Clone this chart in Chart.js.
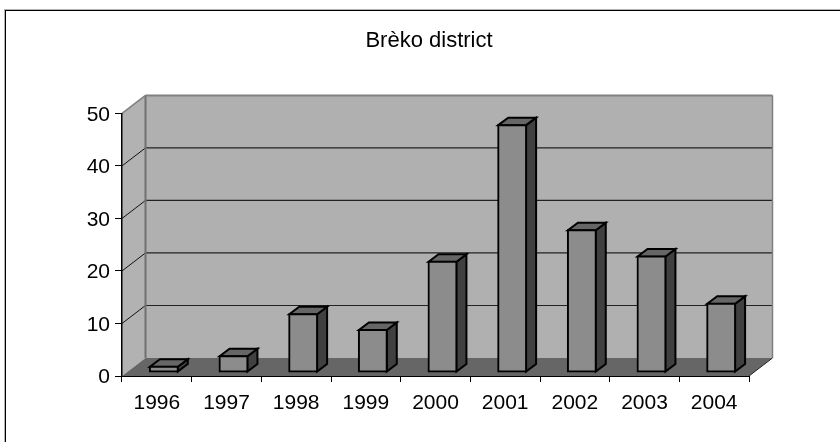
<!DOCTYPE html>
<html>
<head>
<meta charset="utf-8">
<title>Brèko district</title>
<script src="https://cdn.jsdelivr.net/npm/chart.js@4/dist/chart.umd.min.js"></script>
<style>
  html, body { margin: 0; padding: 0; background: #fff; overflow: hidden; }
  canvas { display: block; }
</style>
</head>
<body>
<canvas id="chart" width="840" height="442"></canvas>
<script>
const years = ['1996', '1997', '1998', '1999', '2000', '2001', '2002', '2003', '2004'];
const values = [1, 3, 11, 8, 21, 47, 27, 22, 13];
const chartTitle = 'Brèko district';

const FONT = '"Liberation Sans", Arial, sans-serif';
const WALL_DX = 23.5; // depth of the box
const WALL_DY = -18;
const BAR_DX = 10; // depth of each bar
const BAR_DY = -7.5;
const BAR_SHIFT_X = 7; // bars stand in the middle of the floor
const BAR_SHIFT_Y = -4;

function poly(ctx, pts, fill, stroke, width) {
  ctx.beginPath();
  pts.forEach((p, i) => (i ? ctx.lineTo(p[0], p[1]) : ctx.moveTo(p[0], p[1])));
  ctx.closePath();
  if (fill) {
    ctx.fillStyle = fill;
    ctx.fill();
  }
  if (stroke) {
    ctx.strokeStyle = stroke;
    ctx.lineWidth = width;
    ctx.lineJoin = 'miter';
    ctx.stroke();
  }
}

function line(ctx, x1, y1, x2, y2, color, width) {
  ctx.beginPath();
  ctx.moveTo(x1, y1);
  ctx.lineTo(x2, y2);
  ctx.strokeStyle = color;
  ctx.lineWidth = width;
  ctx.stroke();
}

const box3d = {
  id: 'box3d',
  beforeDraw(chart) {
    const {ctx, chartArea: a, scales} = chart;
    const dx = WALL_DX;
    const dy = WALL_DY;
    ctx.save();

    // page frame, only top and left
    ctx.fillStyle = '#b4b4b4';
    ctx.fillRect(4, 9, 836, 1);
    ctx.fillRect(4, 9, 1, 433);
    ctx.fillStyle = '#000';
    ctx.fillRect(5, 10, 835, 1);
    ctx.fillRect(5, 10, 1, 432);

    // walls and floor
    poly(ctx, [[a.left + dx, a.top + dy], [a.right + dx, a.top + dy], [a.right + dx, a.bottom + dy], [a.left + dx, a.bottom + dy]], '#b0b0b0');
    poly(ctx, [[a.left, a.top], [a.left + dx, a.top + dy], [a.left + dx, a.bottom + dy], [a.left, a.bottom]], '#b2b2b2');
    poly(ctx, [[a.left, a.bottom], [a.left + dx, a.bottom + dy], [a.right + dx, a.bottom + dy], [a.right, a.bottom]], '#666666');

    // gridlines run along the side wall and the back wall
    scales.y.ticks.forEach((t) => {
      if (t.value === 0 || t.value === scales.y.max) return;
      const y = scales.y.getPixelForValue(t.value);
      line(ctx, a.left, y, a.left + dx, y + dy, '#111', 1);
      line(ctx, a.left + dx, y + dy, a.right + dx, y + dy, '#222', 1.2);
    });

    // wall edges
    line(ctx, a.left + dx, a.top + dy, a.left + dx, a.bottom + dy, '#707070', 2);
    line(ctx, a.left + dx, a.top + dy, a.right + dx, a.top + dy, '#808080', 2);
    line(ctx, a.right + dx, a.top + dy, a.right + dx, a.bottom + dy, '#808080', 1.5);
    line(ctx, a.left, a.top, a.left + dx, a.top + dy, '#808080', 1.5);
    line(ctx, a.right, a.bottom, a.right + dx, a.bottom + dy, '#222', 1);
    ctx.restore();
  },
  beforeDatasetsDraw(chart) {
    const {ctx} = chart;
    ctx.save();
    ctx.translate(BAR_SHIFT_X, BAR_SHIFT_Y);
    chart.getDatasetMeta(0).data.forEach((bar) => {
      const {x, y, base, width} = bar.getProps(['x', 'y', 'base', 'width'], true);
      const l = x - width / 2;
      const r = x + width / 2;
      poly(ctx, [[r, y], [r + BAR_DX, y + BAR_DY], [r + BAR_DX, base + BAR_DY], [r, base]], '#404040', '#000', 2);
      poly(ctx, [[l, y], [l + BAR_DX, y + BAR_DY], [r + BAR_DX, y + BAR_DY], [r, y]], '#666666', '#000', 2);
    });
    ctx.restore();
  },
  beforeDatasetDraw(chart) {
    chart.ctx.save();
    chart.ctx.translate(BAR_SHIFT_X, BAR_SHIFT_Y);
  },
  afterDatasetDraw(chart) {
    chart.ctx.restore();
  },
};

new Chart(document.getElementById('chart'), {
  type: 'bar',
  data: {
    labels: years,
    datasets: [
      {
        data: values,
        backgroundColor: '#8c8c8c',
        borderColor: '#000',
        borderWidth: 2,
        borderSkipped: false,
        inflateAmount: 1,
        barPercentage: 0.4,
        categoryPercentage: 1,
        clip: false,
      },
    ],
  },
  options: {
    responsive: false,
    animation: false,
    events: [],
    layout: {padding: {left: 18, right: 0, top: 0, bottom: 0}},
    plugins: {
      legend: {display: false},
      tooltip: {enabled: false},
      title: {
        display: true,
        text: chartTitle,
        color: '#000',
        font: {family: FONT, size: 22, weight: 'normal'},
        padding: {top: 28, bottom: 59},
      },
    },
    scales: {
      x: {
        grid: {drawOnChartArea: false, color: '#000', tickLength: 6, tickColor: '#000'},
        border: {color: '#000', width: 1},
        ticks: {color: '#000', font: {family: FONT, size: 21}, padding: 9, maxRotation: 0},
        afterFit: (scale) => {
          scale.height = 66;
        },
      },
      y: {
        min: 0,
        max: 50,
        grid: {drawOnChartArea: false, color: '#000', tickLength: 7, tickColor: '#000'},
        border: {color: '#000', width: 1.5},
        ticks: {stepSize: 10, color: '#000', font: {family: FONT, size: 21}, padding: 5, labelOffset: 1.5},
        afterFit: (scale) => {
          scale.width = 104;
        },
      },
      // empty axis, only keeps the room right of the box so the title centres like the original
      side: {
        position: 'right',
        grid: {display: false},
        border: {display: false},
        ticks: {display: false},
        afterFit: (scale) => {
          scale.width = 91;
        },
      },
    },
  },
  plugins: [box3d],
});
</script>
</body>
</html>
